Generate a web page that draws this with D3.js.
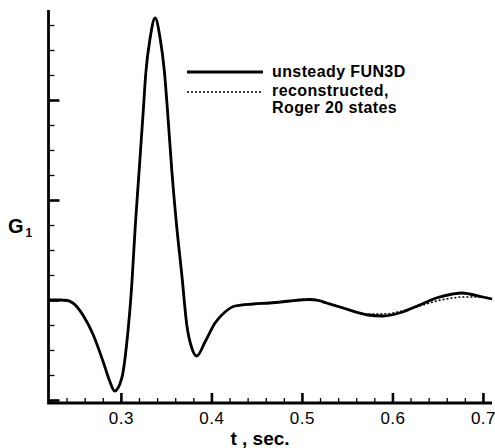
<!DOCTYPE html>
<html>
<head>
<meta charset="utf-8">
<script src="https://cdn.jsdelivr.net/npm/d3@7"></script>
<style>
  html, body { margin: 0; padding: 0; background: #fff; }
  svg { display: block; font-family: "Liberation Sans", Arial, Helvetica, sans-serif; }
</style>
</head>
<body>
<div id="chart"></div>
<script>
/* G1 time history — unsteady FUN3D vs Roger reconstruction. */

var times = [0.22, 0.233, 0.241, 0.247, 0.258, 0.2695, 0.2805, 0.288, 0.293, 0.301, 0.3066, 0.312,
  0.3158, 0.3202, 0.3246, 0.3276, 0.3323, 0.3378, 0.3433, 0.3481, 0.3516, 0.3562, 0.3617, 0.3673,
  0.3728, 0.3783, 0.3838, 0.3929, 0.404, 0.415, 0.426, 0.446, 0.4646, 0.4867, 0.498, 0.508, 0.518,
  0.5271, 0.5454, 0.573, 0.5895, 0.6112, 0.63, 0.6484, 0.6667, 0.677, 0.6851, 0.6998, 0.71];

var fun3d = [0, 0, -0.005, -0.03, -0.15, -0.35, -0.62, -0.82, -0.91, -0.78, -0.42, 0.15,
  0.73, 1.30, 1.88, 2.28, 2.62, 2.82, 2.62, 2.28, 1.88, 1.30, 0.73, 0.25,
  -0.25, -0.48, -0.56, -0.42, -0.23, -0.12, -0.06, -0.04, -0.03, -0.01, 0.0, 0.005, -0.005,
  -0.03, -0.08, -0.15, -0.16, -0.12, -0.05, 0.02, 0.06, 0.07, 0.06, 0.03, 0.01];

var roger20 = [0, 0, -0.005, -0.03, -0.15, -0.35, -0.62, -0.82, -0.91, -0.78, -0.42, 0.15,
  0.73, 1.30, 1.88, 2.28, 2.62, 2.82, 2.62, 2.28, 1.88, 1.30, 0.73, 0.25,
  -0.25, -0.48, -0.56, -0.42, -0.23, -0.12, -0.06, -0.04, -0.03, -0.01, 0.005, 0.01, 0.0,
  -0.025, -0.075, -0.14, -0.14, -0.11, -0.06, -0.01, 0.02, 0.03, 0.03, 0.03, 0.01];

var xMajor = [0.3, 0.4, 0.5, 0.6, 0.7];
var seriesNames = ["unsteady FUN3D", "reconstructed,", "Roger 20 states"];

var W = 495, H = 448;
var svg = d3.select("#chart").append("svg").attr("width", W).attr("height", H);

var x = d3.scaleLinear().domain([0.22, 0.71]).range([48.5, 492]);
var y = d3.scaleLinear().domain([-1.03, 2.9]).range([403, 10]);

var xMinor = d3.range(0.24, 0.705, 0.02).filter(function (t) {
  return !xMajor.some(function (m) { return Math.abs(m - t) < 1e-6; });
});
var yMinor = d3.range(-0.75, 2.8, 0.25).filter(function (v) { return Math.abs(v - Math.round(v)) > 1e-6; });
var yMajor = [-1, 0, 1, 2];

// minor ticks
svg.append("g").attr("transform", "translate(0,403)")
  .call(d3.axisBottom(x).tickValues(xMinor).tickSize(-5).tickFormat(""))
  .call(function (g) { g.select(".domain").remove(); g.selectAll("line").attr("stroke-width", 1.3); });

svg.append("g").attr("transform", "translate(48.5,0)")
  .call(d3.axisLeft(y).tickValues(yMinor).tickSize(-6).tickFormat(""))
  .call(function (g) { g.select(".domain").remove(); g.selectAll("line").attr("stroke-width", 1.3); });

// major ticks + labels
svg.append("g").attr("transform", "translate(0,403)")
  .call(d3.axisBottom(x).tickValues(xMajor).tickSize(-10).tickPadding(9).tickFormat(d3.format(".1f")))
  .call(function (g) {
    g.select(".domain").remove();
    g.selectAll("line").attr("stroke-width", 2.6);
    g.selectAll("text").attr("font-size", 17).attr("fill", "#000").attr("font-family", null)
      .attr("letter-spacing", 0.5);
  });

svg.append("g").attr("transform", "translate(48.5,0)")
  .call(d3.axisLeft(y).tickValues(yMajor).tickSize(-11).tickFormat(""))
  .call(function (g) { g.select(".domain").remove(); g.selectAll("line").attr("stroke-width", 2.6); });

// axis lines
svg.append("path")
  .attr("d", "M" + x.range()[0] + "," + y.range()[1] + "V" + y.range()[0] + "H" + x.range()[1])
  .attr("fill", "none").attr("stroke", "#000").attr("stroke-width", 2.8);

// curves
var line = d3.line()
  .x(function (d) { return x(d[0]); })
  .y(function (d) { return y(d[1]); })
  .curve(d3.curveMonotoneX);

svg.append("path").datum(d3.zip(times, fun3d))
  .attr("fill", "none").attr("stroke", "#000").attr("stroke-width", 2.8)
  .attr("stroke-linejoin", "round").attr("d", line);

svg.append("path").datum(d3.zip(times, roger20))
  .attr("fill", "none").attr("stroke", "#000").attr("stroke-width", 1.6)
  .attr("stroke-dasharray", "2,2").attr("d", line);

// legend
var lg = svg.append("g").attr("font-weight", "bold").attr("font-size", 16).attr("letter-spacing", 0.4);
lg.append("line").attr("x1", 187).attr("x2", 263).attr("y1", 72).attr("y2", 72)
  .attr("stroke", "#000").attr("stroke-width", 2.8);
lg.append("line").attr("x1", 187).attr("x2", 263).attr("y1", 92).attr("y2", 92)
  .attr("stroke", "#000").attr("stroke-width", 1.6).attr("stroke-dasharray", "2,2");
lg.selectAll("text").data(seriesNames).join("text")
  .attr("x", 272)
  .attr("y", function (d, i) { return [77, 96, 113][i]; })
  .text(function (d) { return d; });

// axis titles
svg.append("text").attr("x", 260).attr("y", 445).attr("text-anchor", "middle")
  .attr("font-weight", "bold").attr("font-size", 19).text("t , sec.");

var gl = svg.append("text").attr("x", 8).attr("y", 233).attr("font-weight", "bold").attr("font-size", 20);
gl.append("tspan").text("G");
gl.append("tspan").attr("font-size", 12).attr("dx", 2).attr("dy", 4).text("1");
</script>
</body>
</html>
